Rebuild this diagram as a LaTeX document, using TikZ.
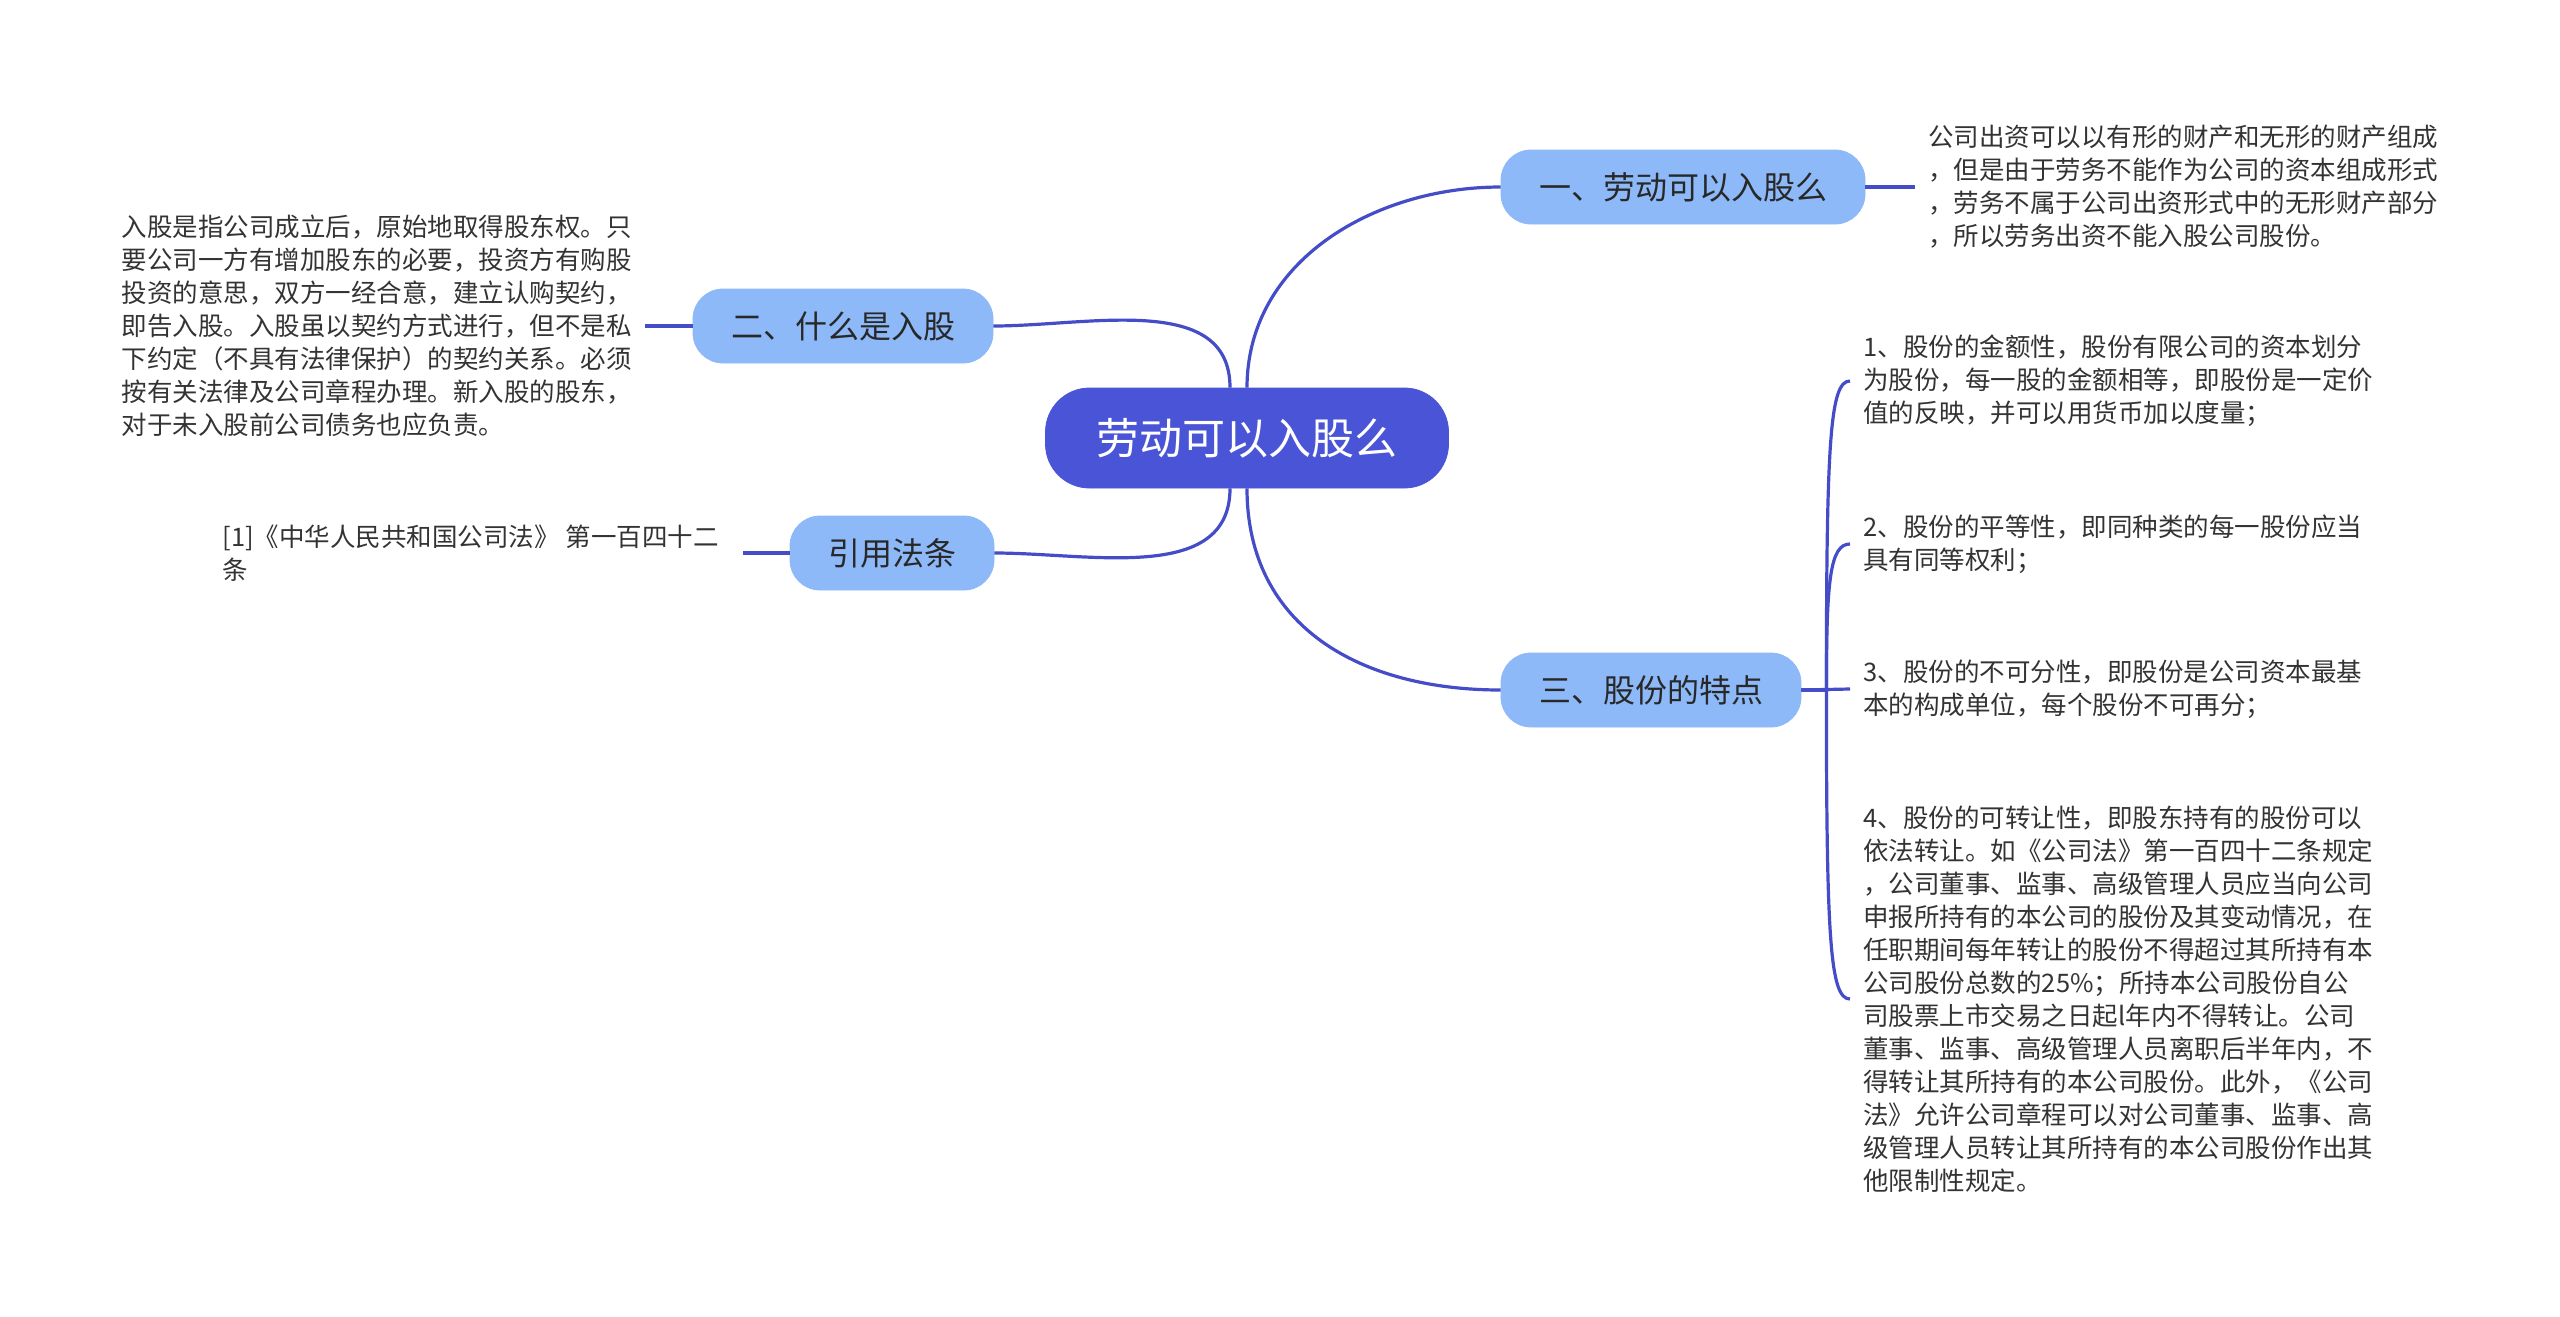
\documentclass[tikz,border=0pt]{standalone}
\usepackage{fontspec}
\setmainfont{Noto Sans CJK SC}
\usetikzlibrary{
  positioning,
  calc
}
\definecolor{rootblue}{RGB}{74,84,214}
\definecolor{branchblue}{RGB}{141,185,249}
\definecolor{linkblue}{RGB}{68,76,200}
\definecolor{labeldark}{RGB}{40,40,40}
\definecolor{leafgray}{RGB}{51,51,51}
\tikzset{
  rootbox/.style={
    draw=rootblue, fill=rootblue, rounded corners=22pt,
    minimum height=50pt, inner xsep=25.5pt,
    font=\fontsize{21.5}{24}\selectfont\color{white}
  },
  branchbox/.style={
    draw=branchblue, fill=branchblue, rounded corners=15pt,
    minimum height=37pt, inner xsep=19pt,
    font=\fontsize{16}{19}\selectfont\color{labeldark}
  },
  leaftext/.style={
    align=left, inner xsep=6.5pt, inner ysep=0pt,
    font=\fontsize{12.75}{16.5}\selectfont\color{leafgray}
  },
  maplink/.style={
    draw=linkblue, line width=1.6pt
  },
}

\begin{document}
\begin{tikzpicture}[x=0.5pt,y=-0.5pt]
  \useasboundingbox (0,0) rectangle (2560,1317);

  %% Root
  \node[rootbox] (root) at (1247,438) {劳动可以入股么};

  %% Branches
  \node[branchbox] (b1) at (1683,187) {一、劳动可以入股么};
  \node[branchbox] (b2) at (843,326) {二、什么是入股};
  \node[branchbox] (b4) at (892,553) {引用法条};
  \node[branchbox] (b3) at (1651,690) {三、股份的特点};

  \draw[maplink] (root.north) to[out=90,in=180] (b1.west);
  \draw[maplink] (b2.east) to[out=0,in=90] ([xshift=-8.5pt]root.north);
  \draw[maplink] (b4.east) to[out=0,in=-90] ([xshift=-8.5pt]root.south);
  \draw[maplink] (root.south) to[out=-90,in=180,looseness=1.1] (b3.west);

  %% Leaves of b1, b2, b4
  \node[leaftext, anchor=west] (l1) at (1915,187)
    {公司出资可以以有形的财产和无形的财产组成\\
     ，但是由于劳务不能作为公司的资本组成形式\\
     ，劳务不属于公司出资形式中的无形财产部分\\
     ，所以劳务出资不能入股公司股份。};
  \draw[maplink] (b1.east) -- (l1.west);

  \node[leaftext, anchor=east] (l2) at (645,326)
    {入股是指公司成立后，原始地取得股东权。只\\
     要公司一方有增加股东的必要，投资方有购股\\
     投资的意思，双方一经合意，建立认购契约，\\
     即告入股。入股虽以契约方式进行，但不是私\\
     下约定（不具有法律保护）的契约关系。必须\\
     按有关法律及公司章程办理。新入股的股东，\\
     对于未入股前公司债务也应负责。};
  \draw[maplink] (l2.east) -- (b2.west);

  \node[leaftext, anchor=east, inner xsep=12pt] (l4) at (743,553)
    {[1]《中华人民共和国公司法》 第一百四十二\\
     条};
  \draw[maplink] (l4.east) -- (b4.west);

  %% Leaves of b3
  \node[leaftext, anchor=west] (l31) at (1850,381)
    {1、股份的金额性，股份有限公司的资本划分\\
     为股份，每一股的金额相等，即股份是一定价\\
     值的反映，并可以用货币加以度量；};
  \node[leaftext, anchor=west] (l32) at (1850,544)
    {2、股份的平等性，即同种类的每一股份应当\\
     具有同等权利；};
  \node[leaftext, anchor=west] (l33) at (1850,689)
    {3、股份的不可分性，即股份是公司资本最基\\
     本的构成单位，每个股份不可再分；};
  \node[leaftext, anchor=west] (l34) at (1850,999)
    {4、股份的可转让性，即股东持有的股份可以\\
     依法转让。如《公司法》第一百四十二条规定\\
     ，公司董事、监事、高级管理人员应当向公司\\
     申报所持有的本公司的股份及其变动情况，在\\
     任职期间每年转让的股份不得超过其所持有本\\
     公司股份总数的25\%；所持本公司股份自公\\
     司股票上市交易之日起l年内不得转让。公司\\
     董事、监事、高级管理人员离职后半年内，不\\
     得转让其所持有的本公司股份。此外，《公司\\
     法》允许公司章程可以对公司董事、监事、高\\
     级管理人员转让其所持有的本公司股份作出其\\
     他限制性规定。};

  \draw[maplink] (b3.east) -- ++(25,0)
    .. controls +(0,-250) and +(-20,0) .. (l31.west);
  \draw[maplink] (b3.east) -- ++(25,0)
    .. controls +(0,-110) and +(-20,0) .. (l32.west);
  \draw[maplink] (b3.east) -- (l33.west);
  \draw[maplink] (b3.east) -- ++(25,0)
    .. controls +(0,250) and +(-20,0) .. (l34.west);

\end{tikzpicture}
\end{document}
